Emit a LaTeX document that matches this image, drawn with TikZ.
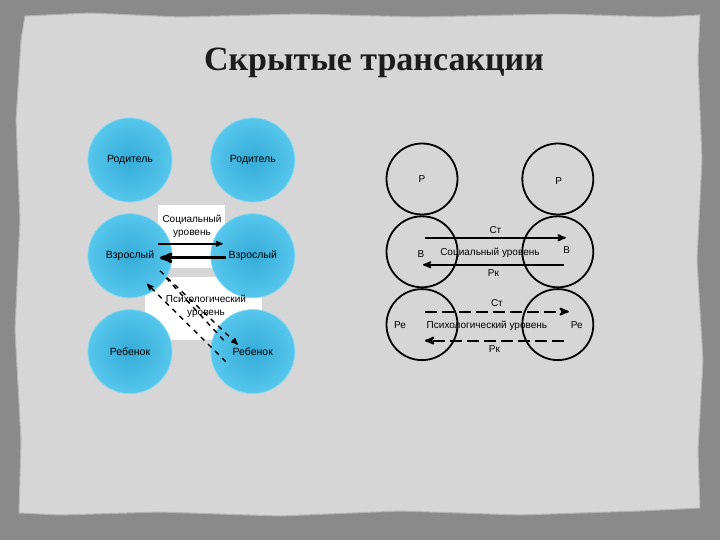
\documentclass[tikz,border=0pt]{standalone}
\usepackage{fontspec}
\setmainfont{Liberation Serif}
\setsansfont{Liberation Sans}
\usepackage{xcolor}
\usetikzlibrary{calc,arrows,positioning}

\definecolor{frameGray}{HTML}{8A8A8A}
\definecolor{paperGray}{HTML}{D6D6D6}
\definecolor{paperEdge}{HTML}{B4B4B4}
\definecolor{titleInk}{HTML}{1C1C1C}
\definecolor{blueIn}{HTML}{34ACD8}
\definecolor{blueOut}{HTML}{56C6EC}
\definecolor{blueRim}{HTML}{80D8F2}

\begin{document}
\begin{tikzpicture}[x=1pt,y=-1pt]

  % Parameters
  \def\rblue{42}
  \def\rblack{35.5}

  % Styles
  \tikzstyle{bluecirc}=[circle,minimum size=2*\rblue,inner sep=0pt,shading=radial,inner color=blueIn,outer color=blueOut,draw=blueRim,line width=0.8pt,font=\sffamily\fontsize{10.5}{12}\selectfont]
  \tikzstyle{blackcirc}=[circle,minimum size=2*\rblack,inner sep=0pt,draw,line width=1.8pt]
  \tikzstyle{whitebox}=[fill=white,draw=none,inner sep=0pt]
  \tikzstyle{lvl}=[font=\sffamily\fontsize{10}{12.5}\selectfont,align=center,inner sep=0pt]
  \tikzstyle{lbl}=[font=\sffamily\fontsize{10}{12}\selectfont,inner sep=1.5pt]
  \tikzstyle{thinarr}=[->,>=stealth',line width=1.4pt]
  \tikzstyle{fatarr}=[->,>=stealth',line width=3pt]
  \tikzstyle{diag}=[->,>=stealth',line width=1.4pt,dash pattern=on 5pt off 5pt]
  \tikzstyle{solidarr}=[->,>=stealth',line width=1.8pt]
  \tikzstyle{dasharr}=[->,>=stealth',line width=2.1pt,dash pattern=on 12pt off 5pt]

  \useasboundingbox (0,0) rectangle (720,540);

  % Background
  \fill[frameGray] (0,0) rectangle (720,540);
  \filldraw[fill=paperGray,draw=paperEdge,line width=1pt]
    (25,16) -- (90,13) -- (180,17) -- (300,14) -- (420,17) -- (560,14) -- (660,17) -- (700,15)
    -- (698,60) -- (702,160) -- (697,260) -- (703,360) -- (698,450) -- (700,508)
    -- (640,511) -- (520,515) -- (400,511) -- (280,516) -- (160,512) -- (60,515) -- (19,513)
    -- (21,440) -- (15,330) -- (20,220) -- (16,120) -- (21,40) -- cycle;

  % Title
  \node[font=\bfseries\fontsize{34}{40}\selectfont,text=titleInk] (title) at (374,63) {Скрытые трансакции};

  % ===========================================================================
  % Left diagram

  % Level boxes
  \node[whitebox,minimum width=67,minimum height=63] (socbox) at (191.5,236.5) {};
  \node[whitebox,minimum width=117,minimum height=63] (psybox) at (203.5,308.5) {};

  % Ego states
  \node[bluecirc] (lpar) at (130,160) {Родитель};
  \node[bluecirc,right=38pt of lpar] (rpar) {Родитель};
  \node[bluecirc,below=11pt of lpar] (ladu) {Взрослый};
  \node[bluecirc,right=38pt of ladu] (radu) {Взрослый};
  \node[bluecirc,below=11pt of ladu] (lchi) {Ребенок};
  \node[bluecirc,right=38pt of lchi] (rchi) {Ребенок};

  % Level labels
  \node[lvl] (soctext) at (192,226.5) {Социальный\\уровень};
  \node[lvl] (psytext) at (206,306.5) {Психологический\\уровень};

  % Social level
  \coordinate (soc-a) at ($(ladu)+(28,-12)$);
  \coordinate (soc-b) at ($(radu)+(-30,-12)$);
  \coordinate (soc-c) at ($(radu)+(-27,2)$);
  \coordinate (soc-d) at ($(ladu)+(30,2)$);
  \draw[thinarr] (soc-a) -- (soc-b);
  \draw[fatarr] (soc-c) -- (soc-d);

  % Psychological level
  \coordinate (psy-a) at ($(ladu)+(30,15)$);
  \coordinate (psy-b) at ($(rchi)+(-15,-7)$);
  \coordinate (psy-c) at ($(rchi)+(-27,10)$);
  \coordinate (psy-d) at ($(ladu)+(17,28)$);
  \coordinate (psy-e) at ($(ladu)+(36,22)$);
  \coordinate (psy-f) at ($(rchi)+(-26,-8)$);
  \draw[diag] (psy-a) -- (psy-b);
  \draw[diag] (psy-c) -- (psy-d);
  \draw[diag,-] (psy-e) -- (psy-f);

  % ===========================================================================
  % Right diagram

  % Ego states
  \node[blackcirc] (p1) at (422,179) {};
  \node[blackcirc,right=63pt of p1] (p2) {};
  \node[blackcirc,below=0pt of p1] (b1) {};
  \node[blackcirc,below=0pt of p2] (b2) {};
  \node[blackcirc,below=0pt of b1] (c1) {};
  \node[blackcirc,below=0pt of b2] (c2) {};

  \node[lbl] at (p1) {Р};
  \node[lbl] at ($(p2)+(1,2)$) {Р};
  \node[lbl] at ($(b1)+(-1,2)$) {В};
  \node[lbl] at ($(b2)+(9,-2)$) {В};
  \node[lbl] at ($(c1)+(-22,1)$) {Ре};
  \node[lbl] at ($(c2)+(19,1)$) {Ре};

  % Social level
  \coordinate (st1-a) at ($(b1)+(3,-14)$);
  \coordinate (st1-b) at ($(b2)+(8,-14)$);
  \coordinate (rk1-a) at ($(b2)+(6,13)$);
  \coordinate (rk1-b) at ($(b1)+(1,13)$);
  \draw[solidarr] (st1-a) -- node[lbl,above=2pt] {Ст} (st1-b);
  \draw[solidarr] (rk1-a) -- node[lbl,below=2pt] {Рк} (rk1-b);
  \node[lbl] at ($(b1)!0.5!(b2)+(0,1)$) {Социальный уровень};

  % Psychological level
  \coordinate (st2-a) at ($(c1)+(3,-13)$);
  \coordinate (st2-b) at ($(c2)+(11,-13)$);
  \coordinate (rk2-a) at ($(c2)+(6,16)$);
  \coordinate (rk2-b) at ($(c1)+(3,16)$);
  \draw[dasharr] (st2-a) -- node[lbl,above=2pt] {Ст} (st2-b);
  \draw[dasharr] (rk2-a) -- node[lbl,below=2pt] {Рк} (rk2-b);
  \node[lbl] at ($(c1)!0.5!(c2)+(-3,1)$) {Психологический уровень};

\end{tikzpicture}
\end{document}
